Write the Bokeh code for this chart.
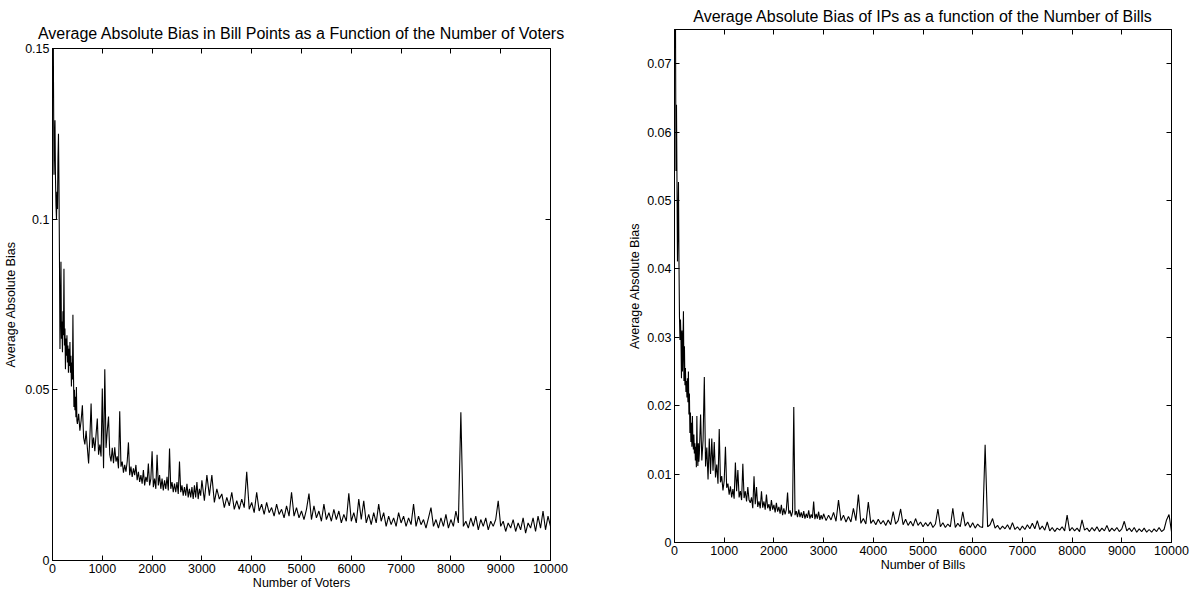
import numpy as np
from bokeh.plotting import figure
from bokeh.models import LinearAxis, FixedTicker, PrintfTickFormatter, Range1d
from bokeh.embed import file_html
from bokeh.resources import INLINE

FONT = "Liberation Sans"

# ---- Left panel: bill-point bias vs number of voters (units of 1e-3) ----
# every 10 voters from 10 to 490
voter_bias_early = [
    175, 140, 113, 122, 129, 112, 104, 100, 108, 103,
    118, 125, 110, 88, 62, 73, 87.5, 65, 70, 61,
    73, 66, 85.5, 63, 68, 56, 65, 60, 66, 58,
    63, 55, 62, 57, 64, 55, 60, 51, 58, 53,
    72, 56, 45, 50, 44, 48, 42, 50.8, 41,
]
# every 25 voters from 500 to 2975
voter_bias_mid = [
    40, 43, 38, 41, 45.5, 36, 34, 38, 33, 28.4, 36, 46, 33, 36, 32, 37, 41.6, 31, 34, 30.5,
    50.4, 27, 56, 33, 38, 42.2, 31, 29, 33, 28.5, 33.2, 29, 30.5, 27, 43.7, 27.5, 29, 25.7, 28, 26,
    29, 34.6, 25, 27.5, 24.5, 27, 25, 28, 23.5, 26, 23, 25, 22.5, 26.5, 22, 24.5, 23, 28.4, 22, 24,
    32, 21.5, 24, 21, 31, 22, 25, 21, 24, 20.5, 23.5, 21, 24.5, 20.5, 32.8, 21, 23, 20, 22.5, 20,
    23, 19.5, 29, 20, 22, 19, 21.5, 19, 22.5, 18.5, 21, 18.5, 21.5, 18, 22, 18.5, 23, 18, 21, 19,
]
# every 50 voters from 3000 to 10000
voter_bias_tail = [
    23.5, 17.5, 25, 19, 25, 17, 21, 18, 19.5, 15.5,
    18.5, 16, 20, 15, 17.5, 15, 18, 15.5, 26, 15,
    17, 14, 20, 14.5, 16.5, 13.5, 17, 14, 15.5, 13,
    16.5, 13.5, 15, 12.5, 16, 13, 20, 13, 15.5, 12.5,
    14.5, 12, 15, 19.6, 12, 16, 12.5, 14.5, 11.5, 16.5,
    12, 14, 11.5, 15, 12, 14.5, 11, 13.5, 11.5, 19.7,
    11.5, 14, 11, 18, 12, 17.5, 11, 13.5, 10.5, 14,
    11, 16.5, 11.5, 14, 10, 13, 10.5, 12.5, 10, 14,
    11, 13, 10, 12.5, 10.5, 16.5, 10, 13, 10.5, 12,
    9.5, 12.5, 15.5, 10, 12, 9.5, 12.5, 10, 13.5, 9.5,
    12, 10, 14.5, 11, 43.4, 10, 11.5, 9.5, 12.5, 10,
    13, 9, 12, 10, 12.5, 9, 11.5, 10, 12, 17.5,
    10, 11.5, 8.5, 11, 9.5, 12, 8.5, 11, 9, 12.5,
    8, 11, 9.5, 12.5, 8.5, 13, 9.5, 14.5, 9, 13,
    10,
]

# ---- Right panel: ideal-point bias vs number of bills (units of 1e-4) ----
# every 10 bills from 10 to 490
bill_bias_early = [
    950, 760, 543, 640, 528, 411, 470, 527, 411, 330,
    296, 326, 300, 240, 310, 250, 290, 338, 236, 287,
    230, 255, 220, 236, 212, 240, 205, 250, 187, 218,
    160, 190, 147, 175, 140, 185, 150, 136, 158, 130,
    145, 120, 140, 110, 185, 130, 112, 145, 118,
]
# every 25 bills from 500 to 2975
bill_bias_mid = [
    130, 187, 120, 150, 242, 111, 139, 92, 152, 100, 152, 105, 147, 95, 114, 86, 166, 88, 97, 76,
    90, 140, 80, 86, 70, 82, 66, 78, 64, 117, 75, 106, 66, 75, 62, 115, 65, 75, 60, 81,
    62, 58, 66, 50, 97, 56, 81, 52, 60, 50, 75, 51, 60, 48, 70, 50, 56, 46, 62, 48,
    55, 44, 58, 45, 52, 42, 55, 40, 50, 41, 48, 73, 42, 47, 38, 45, 198, 40, 46, 37,
    48, 37, 44, 36, 46, 35, 42, 36, 47, 35, 41, 36, 60, 34, 42, 35, 45, 33, 40, 34,
]
# every 50 bills from 3000 to 10000
bill_bias_tail = [
    42, 32, 40, 33, 44, 31, 62, 32, 40, 30,
    38, 30, 50, 32, 70, 28, 35, 27, 59, 28,
    33, 26, 34, 27, 32, 25, 33, 26, 45, 27,
    32, 49, 26, 34, 25, 31, 24, 35, 25, 30,
    23, 29, 24, 30, 22, 27, 49, 23, 29, 22,
    27, 23, 50, 22, 28, 23, 45, 24, 30, 22,
    29, 21, 27, 23, 22, 143, 23, 26, 35, 21,
    25, 19, 24, 20, 26, 19, 29, 19, 23, 18,
    24, 19, 26, 20, 28, 20, 32, 19, 24, 18,
    30, 17, 22, 16, 21, 18, 23, 17, 40, 17,
    22, 17, 21, 16, 33, 18, 21, 16, 22, 17,
    23, 16, 21, 17, 25, 16, 21, 17, 22, 16,
    20, 31, 17, 21, 16, 22, 15, 20, 16, 21,
    15, 19, 15, 20, 16, 22, 16, 19, 33, 41,
    16,
]

x_ticks = list(range(0, 10001, 1000))
voter_y_ticks = [0, 0.05, 0.1, 0.15]
bill_y_ticks = [0, 0.01, 0.02, 0.03, 0.04, 0.05, 0.06, 0.07]


def sample_grid(n_early, n_mid, n_tail):
    return ([10 * (i + 1) for i in range(n_early)]
            + [500 + 25 * i for i in range(n_mid)]
            + [3000 + 50 * i for i in range(n_tail)])


def box_axis(ticker):
    # tick-only mirror axis for the boxed look; its labels are not painted
    return LinearAxis(
        ticker=ticker,
        major_label_text_font_size="1px",
        major_label_text_color=None,
        major_label_standoff=0,
        major_tick_in=5,
        major_tick_out=0,
        minor_tick_line_color=None,
        axis_line_color="black",
        major_tick_line_color="black",
    )


def make_panel(title, xlabel, ylabel, xs, ys, ymax, yticks,
               frame_w, frame_h, b_left, b_right, b_top, b_bottom,
               lab_standoff, title_standoff):
    p = figure(
        frame_width=frame_w, frame_height=frame_h,
        x_range=Range1d(0, 10000), y_range=Range1d(0, ymax),
        output_backend="svg", toolbar_location=None,
        min_border_left=b_left, min_border_right=b_right,
        min_border_top=b_top, min_border_bottom=b_bottom,
        background_fill_color="white", border_fill_color="white",
    )
    p.outline_line_color = "black"
    p.outline_line_alpha = 1.0
    p.grid.visible = False

    p.line(xs, ys, line_color="black", line_width=1.1)

    xt = FixedTicker(ticks=x_ticks)
    yt = FixedTicker(ticks=yticks)

    for ax in (p.xaxis[0], p.yaxis[0]):
        ax.major_tick_in = 5
        ax.major_tick_out = 0
        ax.minor_tick_line_color = None
        ax.axis_line_color = "black"
        ax.major_tick_line_color = "black"
        ax.major_label_text_font = FONT
        ax.major_label_text_font_size = "12.5px"
        ax.major_label_text_color = "black"
        ax.axis_label_text_font = FONT
        ax.axis_label_text_font_size = "12.5px"
        ax.axis_label_text_font_style = "normal"
        ax.axis_label_text_color = "black"

    p.xaxis[0].ticker = xt
    p.xaxis[0].axis_label = xlabel
    p.xaxis[0].major_label_standoff = 3
    p.xaxis[0].axis_label_standoff = 0

    p.yaxis[0].ticker = yt
    p.yaxis[0].formatter = PrintfTickFormatter(format="%g")
    p.yaxis[0].axis_label = ylabel
    p.yaxis[0].major_label_standoff = 3
    p.yaxis[0].axis_label_standoff = lab_standoff

    p.add_layout(box_axis(yt), "right")
    p.add_layout(box_axis(xt), "above")

    p.title.text = title
    p.title.align = "center"
    p.title.text_font = FONT
    p.title.text_font_size = "16px"
    p.title.text_font_style = "normal"
    p.title.text_color = "black"
    p.title.standoff = title_standoff
    return p


voters_x = sample_grid(len(voter_bias_early), len(voter_bias_mid), len(voter_bias_tail))
voters_y = list(np.array(voter_bias_early + voter_bias_mid + voter_bias_tail) / 1000.0)

bills_x = sample_grid(len(bill_bias_early), len(bill_bias_mid), len(bill_bias_tail))
bills_y = list(np.array(bill_bias_early + bill_bias_mid + bill_bias_tail) / 10000.0)

left = make_panel(
    "Average Absolute Bias in Bill Points as a Function of the Number of Voters",
    "Number of Voters", "Average Absolute Bias",
    voters_x, voters_y, 0.15, voter_y_ticks,
    498, 512, 52, 50, 48, 34, 4, 14,
)
right = make_panel(
    "Average Absolute Bias of IPs as a function of the Number of Bills",
    "Number of Bills", "Average Absolute Bias",
    bills_x, bills_y, 0.075, bill_y_ticks,
    497, 513, 74, 27, 28, 53, 2, 10,
)

# two independent roots placed side by side, each keeping its own frame position
page_css = (
    "<style>"
    "html, body { margin: 0 !important; padding: 0 !important; }"
    "body { display: flex !important; flex-direction: row !important;"
    " flex-wrap: nowrap !important; align-items: flex-start !important; }"
    "</style>"
)
html = file_html((left, right), INLINE, title="Average Absolute Bias")
html = html.replace("</head>", page_css + "</head>", 1)

with open("out.html", "w") as f:
    f.write(html)
